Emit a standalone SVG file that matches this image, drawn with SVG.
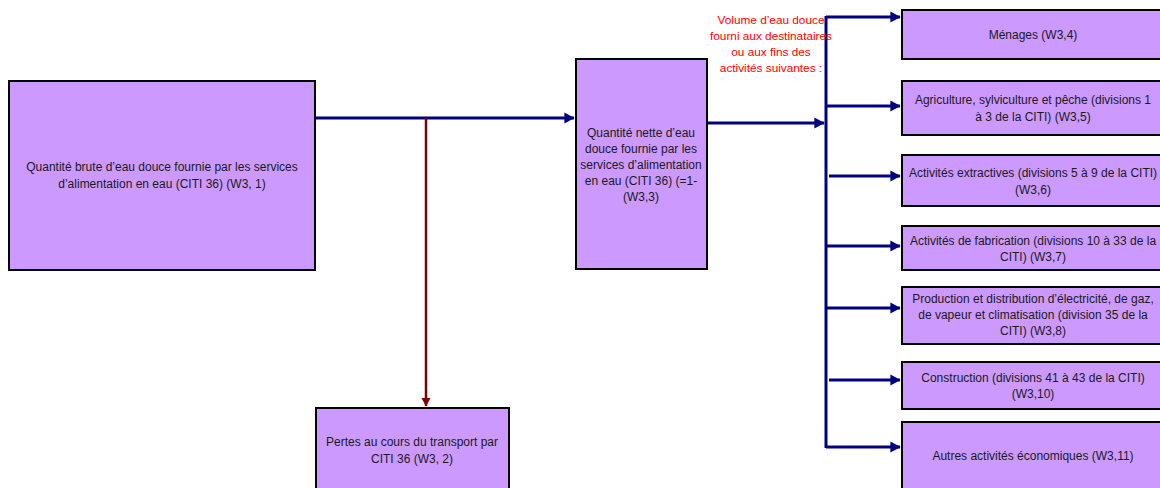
<svg xmlns="http://www.w3.org/2000/svg" width="1160" height="488" viewBox="0 0 1160 488">
<style>
.box{fill:#CC99FF;stroke:#000;stroke-width:2}
.t{font-family:"Liberation Sans",Arial,sans-serif;font-size:12px;fill:#1a1a1a;text-anchor:middle}
.r{font-family:"Liberation Sans",Arial,sans-serif;font-size:11.8px;fill:#FF0000;text-anchor:middle}
.b{stroke:#000080;stroke-width:3;fill:none}
.d{stroke:#800000;stroke-width:2.5;fill:none}
</style>
<defs>
<marker id="ab" markerWidth="4" markerHeight="4" refX="3.2" refY="2" orient="auto" markerUnits="strokeWidth"><path d="M0,0.2 L3.4,2 L0,3.8 Z" fill="#000080"/></marker>
<marker id="ar" markerWidth="4" markerHeight="4" refX="3.2" refY="2" orient="auto" markerUnits="strokeWidth"><path d="M0,0.2 L3.4,2 L0,3.8 Z" fill="#800000"/></marker>
</defs>
<rect width="1160" height="488" fill="#fff"/>
<g id="connectors">
<path class="b" d="M316,118 H574" marker-end="url(#ab)"/>
<path class="d" d="M426,118 V406" marker-end="url(#ar)"/>
<path class="b" d="M707,123 H824" marker-end="url(#ab)"/>
<path class="b" d="M826,16 V448"/>
<path class="b" d="M826,17 H900" marker-end="url(#ab)"/>
<path class="b" d="M826,106 H900" marker-end="url(#ab)"/>
<path class="b" d="M829,176 H900" marker-end="url(#ab)"/>
<path class="b" d="M826,246 H900" marker-end="url(#ab)"/>
<path class="b" d="M826,308 H900" marker-end="url(#ab)"/>
<path class="b" d="M829,380 H900" marker-end="url(#ab)"/>
<path class="b" d="M826,447 H900" marker-end="url(#ab)"/>
</g>
<g id="label-volume">
<text class="r" x="771" y="24">Volume d’eau douce</text>
<text class="r" x="771" y="40">fourni aux destinataires</text>
<text class="r" x="771" y="56">ou aux fins des</text>
<text class="r" x="771" y="72">activités suivantes :</text>
</g>
<g id="n-brute">
<rect class="box" x="9" y="81" width="306" height="189"/>
<text class="t" x="162" y="171">Quantité brute d’eau douce fournie par les services</text>
<text class="t" x="162" y="188">d’alimentation en eau (CITI 36) (W3, 1)</text>
</g>
<g id="n-pertes">
<rect class="box" x="316" y="408" width="193" height="90"/>
<text class="t" x="412" y="446">Pertes au cours du transport par</text>
<text class="t" x="412" y="463">CITI 36 (W3, 2)</text>
</g>
<g id="n-nette">
<rect class="box" x="576" y="59" width="131" height="210"/>
<text class="t" x="641" y="137">Quantité nette d’eau</text>
<text class="t" x="641" y="153">douce fournie par les</text>
<text class="t" x="641" y="169">services d’alimentation</text>
<text class="t" x="641" y="185">en eau (CITI 36) (=1-</text>
<text class="t" x="641" y="201">(W3,3)</text>
</g>
<g id="n-menages">
<rect class="box" x="902" y="10" width="262" height="49"/>
<text class="t" x="1033" y="39">Ménages (W3,4)</text>
</g>
<g id="n-agri">
<rect class="box" x="902" y="81" width="262" height="54"/>
<text class="t" x="1033" y="104">Agriculture, sylviculture et pêche (divisions 1</text>
<text class="t" x="1033" y="121">à 3 de la CITI) (W3,5)</text>
</g>
<g id="n-extr">
<rect class="box" x="902" y="155" width="262" height="51"/>
<text class="t" x="1033" y="177">Activités extractives (divisions 5 à 9 de la CITI)</text>
<text class="t" x="1033" y="194">(W3,6)</text>
</g>
<g id="n-fab">
<rect class="box" x="902" y="226" width="262" height="44"/>
<text class="t" x="1033" y="245">Activités de fabrication (divisions 10 à 33 de la</text>
<text class="t" x="1033" y="261">CITI) (W3,7)</text>
</g>
<g id="n-prod">
<rect class="box" x="902" y="287" width="262" height="57"/>
<text class="t" x="1033" y="303">Production et distribution d’électricité, de gaz,</text>
<text class="t" x="1033" y="319">de vapeur et climatisation (division 35 de la</text>
<text class="t" x="1033" y="335">CITI) (W3,8)</text>
</g>
<g id="n-constr">
<rect class="box" x="902" y="362" width="262" height="47"/>
<text class="t" x="1033" y="382">Construction (divisions 41 à 43 de la CITI)</text>
<text class="t" x="1033" y="398">(W3,10)</text>
</g>
<g id="n-autres">
<rect class="box" x="902" y="422" width="262" height="76"/>
<text class="t" x="1033" y="460">Autres activités économiques (W3,11)</text>
</g>
</svg>
